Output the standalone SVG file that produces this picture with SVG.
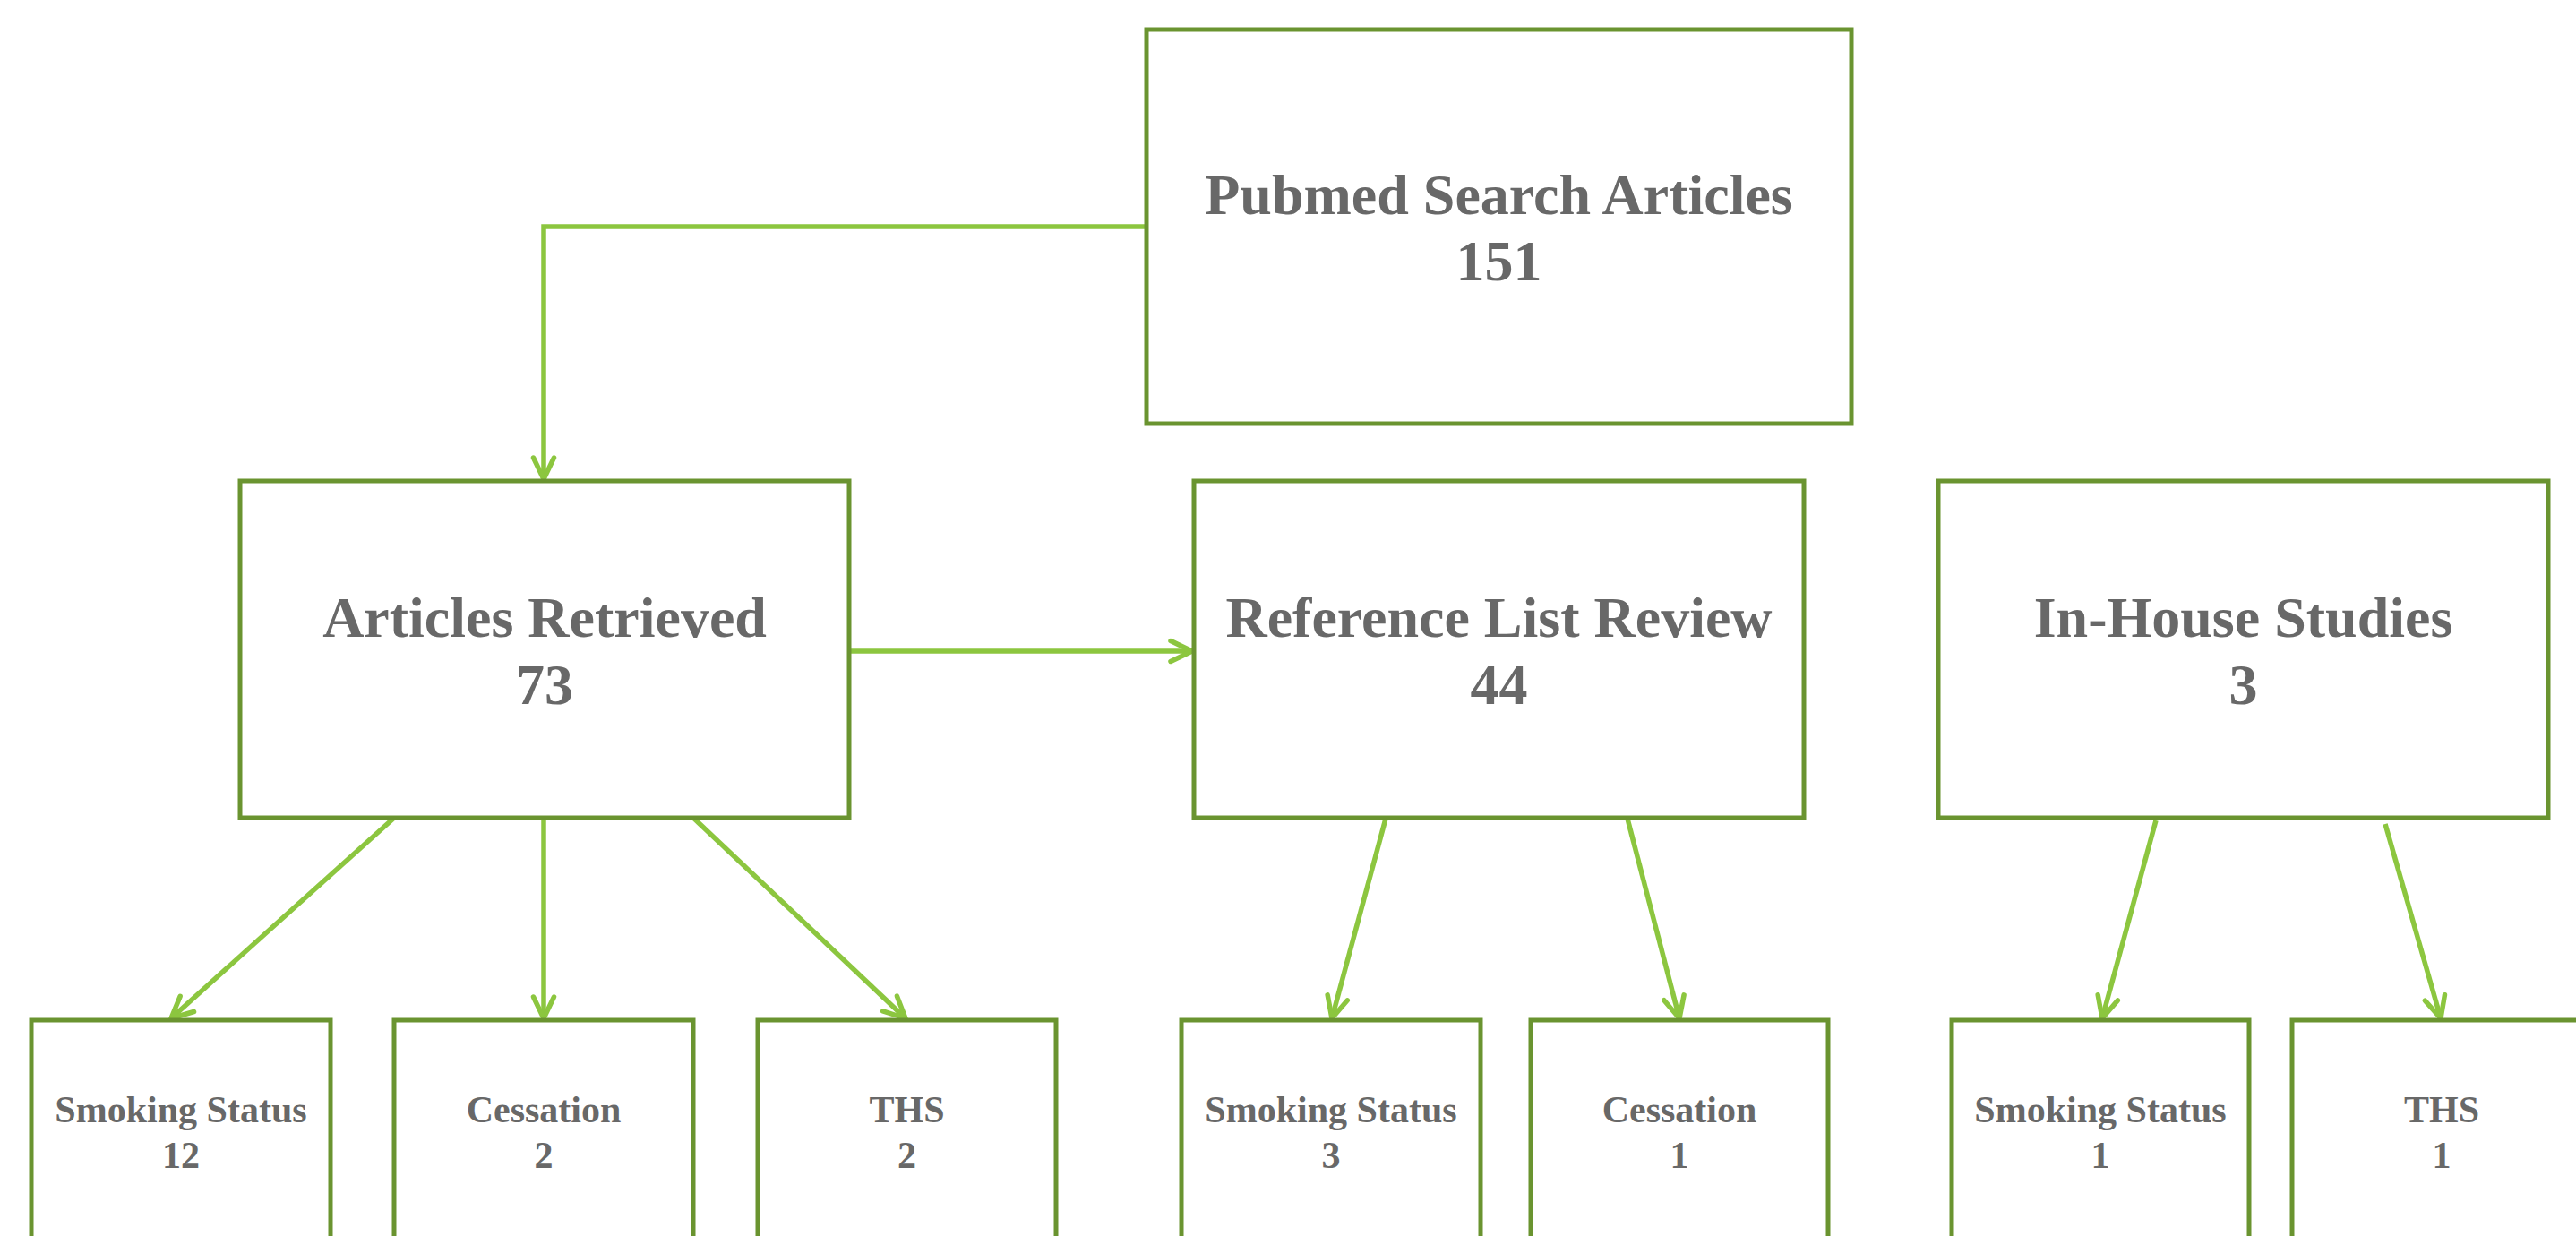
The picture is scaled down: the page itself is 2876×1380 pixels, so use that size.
<svg xmlns="http://www.w3.org/2000/svg" width="2876" height="1380" viewBox="0 0 2876 1380">
<style>
.box{fill:#ffffff;stroke:#6a9430;stroke-width:5}
.lbl{font-family:"Liberation Serif","Times New Roman",serif;font-weight:bold;fill:#686868;text-anchor:middle}
.big{font-size:64px}
.small{font-size:42px}
.conn{fill:none;stroke:#8cc63f;stroke-width:5.5}
</style>
<defs>
<marker id="arr" markerUnits="userSpaceOnUse" markerWidth="40" markerHeight="40" refX="0" refY="0" viewBox="-30 -20 40 40" orient="auto" overflow="visible">
<path d="M-24,-11.5 L0,0 L-24,11.5" fill="none" stroke="#8cc63f" stroke-width="5.5" stroke-linecap="round" stroke-linejoin="round"/>
</marker>
</defs>
<rect width="2876" height="1380" fill="#ffffff"/>
<g id="connectors">
<path class="conn" d="M1280,253 L607,253 L607,535" marker-end="url(#arr)"/>
<path class="conn" d="M950,727 L1331,727" marker-end="url(#arr)"/>
<path class="conn" d="M439,914 L191,1137" marker-end="url(#arr)"/>
<path class="conn" d="M607,914 L607,1137" marker-end="url(#arr)"/>
<path class="conn" d="M775,914 L1011,1137" marker-end="url(#arr)"/>
<path class="conn" d="M1547,914 L1487,1137" marker-end="url(#arr)"/>
<path class="conn" d="M1817,914 L1875,1137" marker-end="url(#arr)"/>
<path class="conn" d="M2407,916 L2347,1137" marker-end="url(#arr)"/>
<path class="conn" d="M2663,920 L2725,1137" marker-end="url(#arr)"/>
</g>
<g id="pubmed">
<rect class="box" x="1280" y="33" width="787" height="440"/>
<text class="lbl big" x="1673.5" y="239">Pubmed Search Articles</text>
<text class="lbl big" x="1673.5" y="313">151</text>
</g>
<g id="articles-retrieved">
<rect class="box" x="268" y="537" width="680" height="376"/>
<text class="lbl big" x="608" y="711">Articles Retrieved</text>
<text class="lbl big" x="608" y="786">73</text>
</g>
<g id="reference-list">
<rect class="box" x="1333" y="537" width="681" height="376"/>
<text class="lbl big" x="1673.5" y="711">Reference List Review</text>
<text class="lbl big" x="1673.5" y="786">44</text>
</g>
<g id="in-house">
<rect class="box" x="2164" y="537" width="681" height="376"/>
<text class="lbl big" x="2504.5" y="711">In-House Studies</text>
<text class="lbl big" x="2504.5" y="786">3</text>
</g>
<g id="ar-smoking">
<rect class="box" x="35" y="1139" width="334" height="300"/>
<text class="lbl small" x="202" y="1253">Smoking Status</text>
<text class="lbl small" x="202" y="1304">12</text>
</g>
<g id="ar-cessation">
<rect class="box" x="440" y="1139" width="334" height="300"/>
<text class="lbl small" x="607" y="1253">Cessation</text>
<text class="lbl small" x="607" y="1304">2</text>
</g>
<g id="ar-ths">
<rect class="box" x="846" y="1139" width="333" height="300"/>
<text class="lbl small" x="1012.5" y="1253">THS</text>
<text class="lbl small" x="1012.5" y="1304">2</text>
</g>
<g id="rl-smoking">
<rect class="box" x="1319" y="1139" width="334" height="300"/>
<text class="lbl small" x="1486" y="1253">Smoking Status</text>
<text class="lbl small" x="1486" y="1304">3</text>
</g>
<g id="rl-cessation">
<rect class="box" x="1709" y="1139" width="332" height="300"/>
<text class="lbl small" x="1875" y="1253">Cessation</text>
<text class="lbl small" x="1875" y="1304">1</text>
</g>
<g id="ih-smoking">
<rect class="box" x="2179" y="1139" width="332" height="300"/>
<text class="lbl small" x="2345" y="1253">Smoking Status</text>
<text class="lbl small" x="2345" y="1304">1</text>
</g>
<g id="ih-ths">
<rect class="box" x="2559" y="1139" width="334" height="300"/>
<text class="lbl small" x="2726" y="1253">THS</text>
<text class="lbl small" x="2726" y="1304">1</text>
</g>
</svg>
